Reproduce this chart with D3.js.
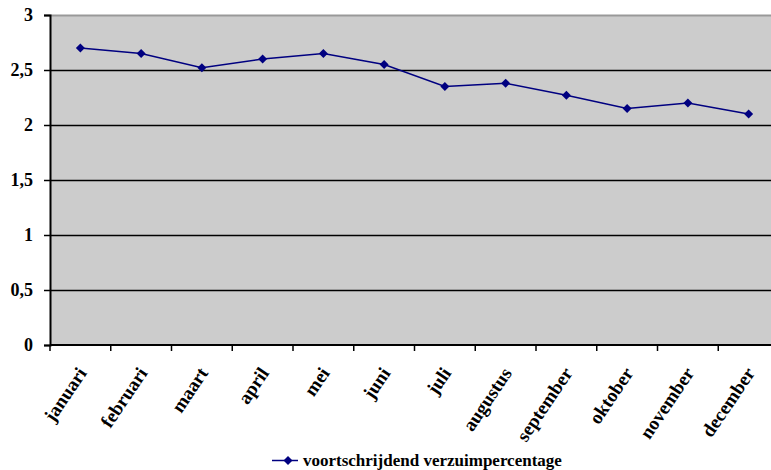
<!DOCTYPE html>
<html><head><meta charset="utf-8">
<script src="https://cdn.jsdelivr.net/npm/d3@7"></script>
<style>
html,body{margin:0;padding:0;background:#fff;overflow:hidden;}
svg{display:block;}
text{font-family:"Liberation Serif","Times New Roman",serif;font-weight:bold;fill:#000;}
</style></head><body>
<svg id="c" width="771" height="470"></svg>
<script>
const months = ["januari","februari","maart","april","mei","juni","juli","augustus","september","oktober","november","december"];
const values = [2.7,2.65,2.52,2.6,2.65,2.55,2.35,2.38,2.27,2.15,2.2,2.1];
const yTicks = [0,0.5,1,1.5,2,2.5,3];
const seriesName = "voortschrijdend verzuimpercentage";

const svg = d3.select("#c");
const L = 50, R = 779, T = 15, B = 345;
const x = d3.scaleBand().domain(months).range([L, R]);
const y = d3.scaleLinear().domain([0,3]).range([B, T]);
const fmt = d => String(d).replace(".", ",");
const cx = d => x(d) + x.bandwidth()/2;

svg.append("rect").attr("x",L).attr("y",T).attr("width",R-L).attr("height",B-T).attr("fill","#cccccc");
svg.append("line").attr("x1",L).attr("x2",R).attr("y1",T+0.5).attr("y2",T+0.5).attr("stroke","#999").attr("stroke-width",2);

// gridlines
svg.append("g").selectAll("line").data(yTicks.filter(d=>d>0 && d<3)).join("line")
  .attr("x1",L).attr("x2",R).attr("y1",d=>Math.round(y(d))+0.5).attr("y2",d=>Math.round(y(d))+0.5)
  .attr("stroke","#000").attr("stroke-width",1.3);

// y axis
const ya = svg.append("g").attr("transform",`translate(${L},0)`)
  .call(d3.axisLeft(y).tickValues(yTicks).tickFormat(fmt).tickSize(6).tickPadding(11));
ya.attr("font-family",null).attr("font-size",null);
ya.select(".domain").attr("stroke","#000").attr("stroke-width",2);
ya.selectAll(".tick line").attr("stroke","#000").attr("stroke-width",1.5);
ya.selectAll("text").attr("font-size",18);

// x axis
const xa = svg.append("g").attr("transform",`translate(0,${B})`);
xa.append("line").attr("x1",L).attr("x2",R).attr("stroke","#000").attr("stroke-width",2);
xa.selectAll("line.t").data(months).join("line").attr("class","t")
  .attr("x1",d=>x(d)).attr("x2",d=>x(d)).attr("y1",0).attr("y2",6).attr("stroke","#000").attr("stroke-width",1.5);
xa.selectAll("text").data(months).join("text")
  .attr("transform",d=>`translate(${cx(d)+7},${28}) rotate(-56)`)
  .attr("text-anchor","end").attr("font-size",19).text(d=>d);

// line
const line = d3.line().x((d,i)=>cx(months[i])).y(d=>y(d));
svg.append("path").datum(values).attr("d",line).attr("fill","none").attr("stroke","#000080").attr("stroke-width",1.5);
const diamond = "M0,-4.5L4.5,0L0,4.5L-4.5,0Z";
svg.append("g").selectAll("path").data(values).join("path")
  .attr("transform",(d,i)=>`translate(${cx(months[i])},${y(d)})`)
  .attr("d",diamond).attr("fill","#000080");

// legend
const lg = svg.append("g").attr("transform","translate(272,460.5)");
lg.append("line").attr("x1",0).attr("x2",26).attr("stroke","#000080").attr("stroke-width",1.5);
lg.append("path").attr("transform","translate(16,0)").attr("d",diamond).attr("fill","#000080");
lg.append("text").attr("x",31).attr("dy","0.33em").attr("font-size",17).text(seriesName);
</script></body></html>
